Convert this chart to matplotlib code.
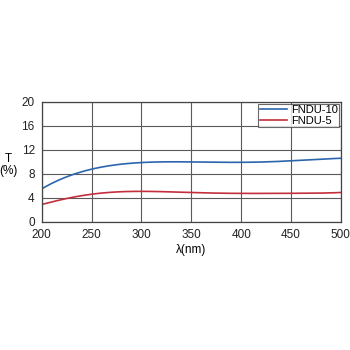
import numpy as np
import matplotlib
matplotlib.use("Agg")
import matplotlib.pyplot as plt

plt.rcParams['font.family'] = ['Liberation Sans', 'DejaVu Sans']

wavelength = [200, 225, 250, 275, 300, 325, 350, 375, 400, 425, 450, 475, 500]
fndu10 = [5.5, 7.5, 8.8, 9.5, 9.9, 10.0, 10.0, 9.95, 9.9, 10.0, 10.2, 10.4, 10.6]
fndu5 = [2.9, 3.9, 4.6, 5.0, 5.1, 5.0, 4.9, 4.8, 4.75, 4.75, 4.75, 4.8, 4.9]

xs = np.linspace(200, 500, 301)

# smooth curves through the read points
def smooth(x, y):
    c = np.polyfit(x, y, 6)
    return np.polyval(c, xs)

fig = plt.figure(figsize=(3.5, 3.5), dpi=100)
ax = fig.add_axes([0.119, 0.366, 0.855, 0.343])

ax.plot(xs, smooth(wavelength, fndu10), color='#2b66ad', lw=1.2, label='FNDU-10')
ax.plot(xs, smooth(wavelength, fndu5), color='#c32f3c', lw=1.2, label='FNDU-5')

ax.set_xlim(200, 500)
ax.set_ylim(0, 20)
ax.set_xticks(range(200, 501, 50))
ax.set_yticks(range(0, 21, 4))
ax.grid(True, color='#5a5a5a', lw=0.8)
for s in ax.spines.values():
    s.set_color('#444444')
    s.set_linewidth(0.9)
ax.tick_params(length=0, labelsize=8.5, colors='#222222')
ax.tick_params(axis='x', pad=5)
ax.tick_params(axis='y', pad=5)
ax.set_xlabel('λ(nm)', fontsize=8.5, labelpad=2)
ax.text(-0.112, 0.47, 'T\n(%)', transform=ax.transAxes, ha='center', va='center',
        fontsize=8.5, linespacing=1.0)

leg = ax.legend(loc='upper right', fontsize=8, frameon=True, fancybox=False,
                borderpad=0.15, labelspacing=0.05, handlelength=2.5, handletextpad=0.3,
                borderaxespad=0.15)
leg.get_frame().set_edgecolor('#444444')
leg.get_frame().set_linewidth(0.8)

fig.savefig('out.png', dpi=100)
